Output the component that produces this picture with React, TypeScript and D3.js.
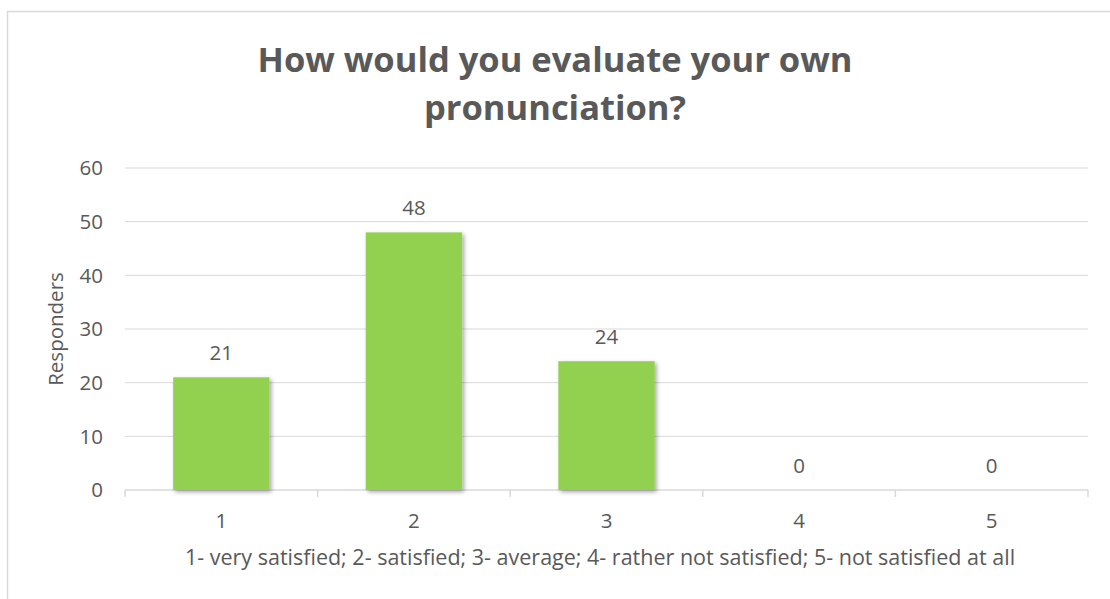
import React from 'react';
import * as d3 from 'd3';

const categories = ['1', '2', '3', '4', '5'];
const responders = [21, 48, 24, 0, 0];
const yTicks = [0, 10, 20, 30, 40, 50, 60];
const titleLines = ['How would you evaluate your own', 'pronunciation?'];
const xTitle = '1- very satisfied; 2- satisfied; 3- average; 4- rather not satisfied; 5- not satisfied at all';
const yTitle = 'Responders';

const W = 1110;
const H = 599;
const plot = { left: 125, right: 1088, top: 168, bottom: 490 };
const font = '"Open Sans", "Liberation Sans", sans-serif';
const textColor = '#595959';
const fs = 20.5;

const App = () => {
  const x = d3.scaleBand().domain(categories).range([plot.left, plot.right]).paddingInner(0.5).paddingOuter(0.25);
  const y = d3.scaleLinear().domain([0, 60]).range([plot.bottom, plot.top]);
  const boundaries = d3.range(categories.length + 1).map((i) => plot.left + i * (plot.right - plot.left) / categories.length);

  return (
    <svg width={W} height={H} style={{ position: 'absolute', left: 0, top: 0 }}>
      <defs>
        <filter id="shadow" x="-20%" y="-20%" width="150%" height="150%">
          <feDropShadow dx="2" dy="2" stdDeviation="2" floodColor="#000" floodOpacity="0.35" />
        </filter>
      </defs>
      <rect x={0} y={0} width={W} height={H} fill="#fff" />
      {/* chart border */}
      <path d={`M${W},11.5 H7.5 V${H}`} fill="none" stroke="#d9d9d9" strokeWidth={1.5} />

      {titleLines.map((t, i) => (
        <text key={i} x={555} y={72 + i * 47.5} textAnchor="middle" fontFamily={font} fontWeight="bold"
          fontSize={34.5} fill={textColor}>{t}</text>
      ))}

      {yTicks.map((t) => (
        <g key={t}>
          <line x1={plot.left} x2={plot.right} y1={y(t)} y2={y(t)} stroke="#d9d9d9" strokeWidth={t === 0 ? 1.5 : 1} />
          <text x={103} y={y(t)} dy="0.35em" textAnchor="end" fontFamily={font} fontSize={fs} fill={textColor}>{t}</text>
        </g>
      ))}

      {boundaries.map((b, i) => (
        <line key={i} x1={b} x2={b} y1={plot.bottom} y2={plot.bottom + 7} stroke="#d9d9d9" strokeWidth={1.5} />
      ))}

      {categories.map((c, i) => (
        <g key={c}>
          {responders[i] > 0 && (
            <rect x={x(c)} y={y(responders[i])} width={x.bandwidth()} height={y(0) - y(responders[i])}
              fill="#92d050" filter="url(#shadow)" />
          )}
          <text x={x(c)! + x.bandwidth() / 2} y={y(responders[i]) - 17} textAnchor="middle" fontFamily={font}
            fontSize={fs} fill={textColor}>{responders[i]}</text>
          <text x={x(c)! + x.bandwidth() / 2} y={528} textAnchor="middle" fontFamily={font}
            fontSize={fs} fill={textColor}>{c}</text>
        </g>
      ))}

      <text x={600} y={565} textAnchor="middle" fontFamily={font}
        fontSize={21.5} fill={textColor}>{xTitle}</text>
      <text transform={`translate(63,${(plot.top + plot.bottom) / 2}) rotate(-90)`} textAnchor="middle"
        fontFamily={font} fontSize={fs} fill={textColor}>{yTitle}</text>
    </svg>
  );
};

export default App;
